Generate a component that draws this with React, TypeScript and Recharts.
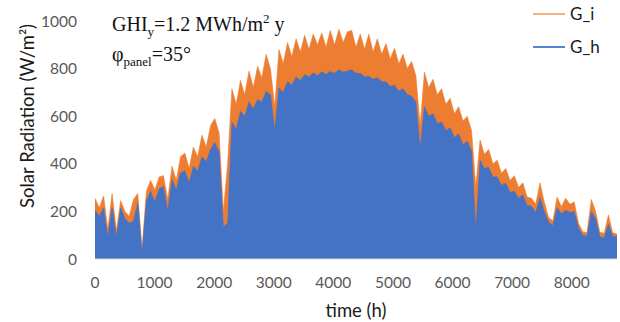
import { ComposedChart, Area, XAxis, YAxis } from 'recharts';

// daily-peak samples, roughly every 72 h through the year
const G_I = [
  255, 215, 265, 125, 275, 120, 245, 200, 180, 250, 275, 40, 285, 330,
  290, 345, 350, 250, 390, 330, 430, 445, 380, 470, 430, 520, 470, 560,
  590, 530, 200, 400, 715, 650, 750, 690, 790, 720, 810, 760, 860, 800,
  640, 880, 820, 910, 850, 925, 870, 940, 880, 945, 900, 950, 890, 960,
  900, 965, 910, 955, 960, 890, 945, 880, 945, 870, 925, 860, 905, 840,
  885, 820, 860, 800, 830, 770, 560, 785, 720, 755, 690, 715, 650, 675,
  610, 640, 580, 600, 540, 300, 500, 440, 460, 400, 415, 360, 380, 330,
  350, 300, 320, 260, 255, 230, 320, 240, 175, 160, 260, 220, 255, 230,
  240, 150, 115, 110, 250, 200, 112, 108, 185, 110, 105,
];

const G_H = [
  205, 180, 215, 95, 215, 92, 215, 170, 150, 160, 235, 25, 245, 285,
  240, 295, 305, 200, 335, 290, 362, 370, 320, 390, 370, 430, 410, 460,
  490, 450, 135, 150, 575, 545, 620, 600, 660, 630, 670, 660, 705, 690,
  540, 720, 700, 745, 730, 765, 750, 775, 765, 783, 770, 787, 775, 788,
  780, 795, 785, 790, 795, 780, 780, 765, 768, 755, 762, 745, 745, 725,
  730, 705, 715, 690, 685, 660, 465, 640, 600, 610, 570, 575, 540, 550,
  510, 525, 480, 495, 455, 120, 415, 380, 385, 345, 345, 310, 318, 280,
  285, 255, 270, 225, 222, 195, 257, 200, 155, 140, 215, 190, 205, 195,
  200, 130, 100, 95, 200, 170, 92, 90, 145, 95, 95,
];

const X_TICKS = [0, 1000, 2000, 3000, 4000, 5000, 6000, 7000, 8000];
const Y_TICKS = [0, 200, 400, 600, 800, 1000];

const HOURS = G_I.map((_, i) => Math.round((i * 8760) / (G_I.length - 1)));

const data = HOURS.map((hour, i) => ({ hour, G_i: G_I[i], G_h: G_H[i] }));

const SANS = 'Lato, "Open Sans", sans-serif';
const SERIF = '"Liberation Serif", "DejaVu Serif", serif';

const TICK = { fontSize: 15.5, fontFamily: SANS, fill: '#595959' };

function LegendBox() {
  const items = [
    { label: 'G_i', color: '#F5B284', y: 14 },
    { label: 'G_h', color: '#5A82D4', y: 47 },
  ];
  return (
    <svg width={90} height={60} style={{ position: 'absolute', left: 533, top: 0, overflow: 'visible' }}>
      {items.map((it) => (
        <g key={it.label}>
          <line x1={0} x2={32} y1={it.y} y2={it.y} stroke={it.color} strokeWidth={2} />
          <text x={37} y={it.y} dy="0.35em" fontSize={17} fontFamily={SANS} fill="#1a1a1a">
            {it.label}
          </text>
        </g>
      ))}
    </svg>
  );
}

export default function App() {
  return (
    <div style={{ position: 'absolute', left: 0, top: 0, width: 620, height: 322, background: '#fff' }}>
      <ComposedChart width={620} height={322} data={data} margin={{ top: 21, right: 3, left: 0, bottom: 0 }}>
        <XAxis
          dataKey="hour"
          type="number"
          domain={[0, 8760]}
          ticks={X_TICKS}
          allowDataOverflow
          tick={TICK}
          tickSize={0}
          tickMargin={18}
          height={63}
          axisLine={{ stroke: '#D9D9D9', strokeWidth: 1 }}
          label={{ value: 'time (h)', position: 'insideBottom', offset: 5, fill: '#1a1a1a', fontSize: 18.5, fontFamily: SANS }}
        />
        <YAxis
          type="number"
          domain={[0, 1000]}
          ticks={Y_TICKS}
          tick={TICK}
          tickSize={0}
          tickMargin={18}
          width={95}
          axisLine={false}
          tickLine={false}
          label={{
            content: () => (
              <text
                x={27}
                y={116}
                transform="rotate(-90 27 116)"
                textAnchor="middle"
                dominantBaseline="central"
                fontSize={18.5}
                fontFamily={SANS}
                fill="#1a1a1a"
              >
                Solar Radiation (W/m²)
              </text>
            ),
          }}
        />
        <Area
          type="linear"
          dataKey="G_i"
          stroke="#ED7D31"
          strokeWidth={0.6}
          fill="#ED7D31"
          fillOpacity={1}
          dot={false}
          activeDot={false}
          isAnimationActive={false}
        />
        <Area
          type="linear"
          dataKey="G_h"
          stroke="#4472C4"
          strokeWidth={0.6}
          fill="#4472C4"
          fillOpacity={1}
          dot={false}
          activeDot={false}
          isAnimationActive={false}
        />
      </ComposedChart>
      <LegendBox />
      <div style={{ position: 'absolute', left: 112, top: 7, fontFamily: SERIF, fontSize: 20, lineHeight: '23px', color: '#111' }}>
        <div>
          GHI<sub style={{ fontSize: 13 }}>y</sub>=1.2 MWh/m<sup style={{ fontSize: 13 }}>2</sup> y
        </div>
        <div>
          φ<sub style={{ fontSize: 13 }}>panel</sub>=35°
        </div>
      </div>
    </div>
  );
}
